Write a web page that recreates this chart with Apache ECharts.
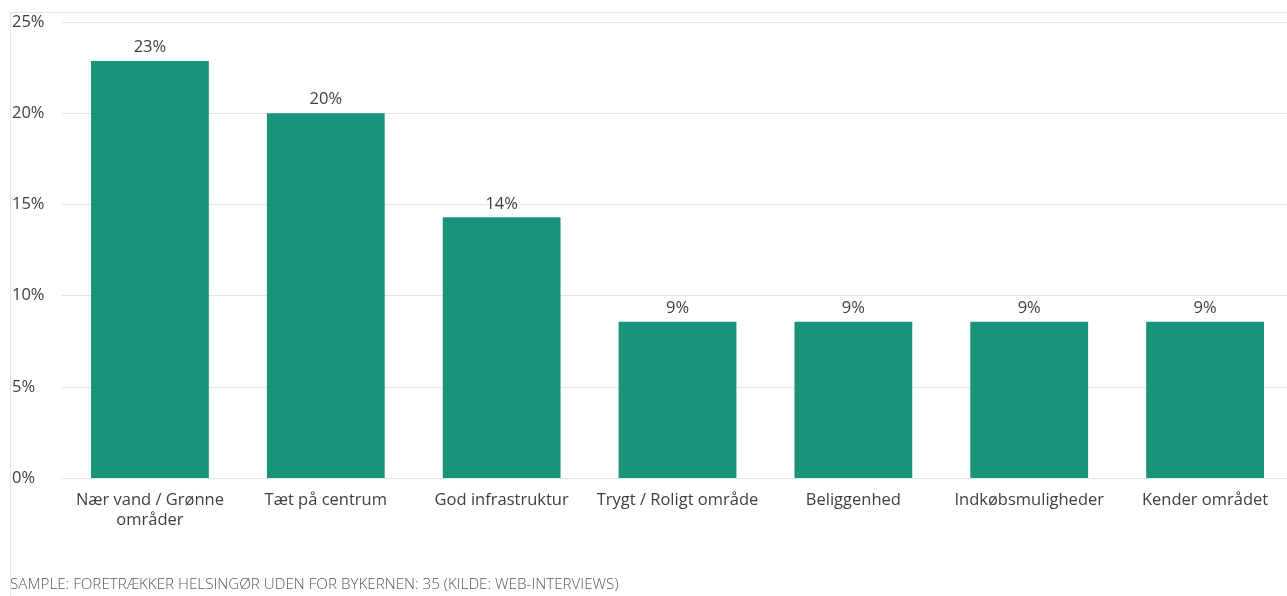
<!DOCTYPE html>
<html>
<head>
<meta charset="utf-8">
<script src="https://cdn.jsdelivr.net/npm/echarts@6/dist/echarts.min.js"></script>
<style>
  html, body { margin: 0; padding: 0; background: #fff; }
  #chart { width: 1287px; height: 596px; }
</style>
</head>
<body>
<div id="chart"></div>
<script>
// Reasons for preferring Helsingør outside the town centre (share of respondents, %)
const categories = [
  'Nær vand / Grønne\nområder',
  'Tæt på centrum',
  'God infrastruktur',
  'Trygt / Roligt område',
  'Beliggenhed',
  'Indkøbsmuligheder',
  'Kender området'
];
const shares = [22.86, 20.0, 14.29, 8.57, 8.57, 8.57, 8.57];
const yTicks = [0, 5, 10, 15, 20, 25];
const footnote = 'SAMPLE: FORETRÆKKER HELSINGØR UDEN FOR BYKERNEN: 35 (KILDE: WEB-INTERVIEWS)';

const fontFamily = '"Open Sans", "Noto Sans", sans-serif';
const chart = echarts.init(document.getElementById('chart'));

chart.setOption({
  animation: false,
  textStyle: { fontFamily: fontFamily },
  graphic: [
    {
      type: 'rect',
      shape: { x: 10.5, y: 12.5, width: 1400, height: 700 },
      style: { fill: 'none', stroke: '#e3e3e3', lineWidth: 1 },
      silent: true
    },
    {
      type: 'text',
      left: 10,
      top: 577,
      style: {
        text: footnote,
        fill: '#595959',
        font: '300 15.2px ' + fontFamily
      }
    }
  ],
  grid: {
    left: 62,
    width: 1231,
    top: 22,
    bottom: 118,
    containLabel: false,
    outerBoundsMode: 'none'
  },
  xAxis: {
    type: 'category',
    data: categories,
    axisTick: { show: false },
    axisLine: { show: true, lineStyle: { color: '#e3e3e3', width: 1 } },
    axisLabel: {
      color: '#404040',
      fontSize: 16.5,
      margin: 12,
      lineHeight: 20,
      interval: 0
    }
  },
  yAxis: {
    type: 'value',
    min: yTicks[0],
    max: yTicks[yTicks.length - 1],
    interval: 5,
    axisLine: { show: false },
    axisTick: { show: false },
    splitLine: { lineStyle: { color: '#e3e3e3', width: 1 } },
    axisLabel: {
      color: '#404040',
      fontSize: 16.5,
      align: 'left',
      margin: 50,
      formatter: v => v + '%'
    }
  },
  series: [
    {
      type: 'bar',
      data: shares,
      barWidth: '67%',
      itemStyle: { color: '#19947b' },
      label: {
        show: true,
        position: 'top',
        distance: 5,
        color: '#404040',
        fontSize: 16.5,
        formatter: p => Math.round(p.value) + '%'
      }
    }
  ]
});
</script>
</body>
</html>
